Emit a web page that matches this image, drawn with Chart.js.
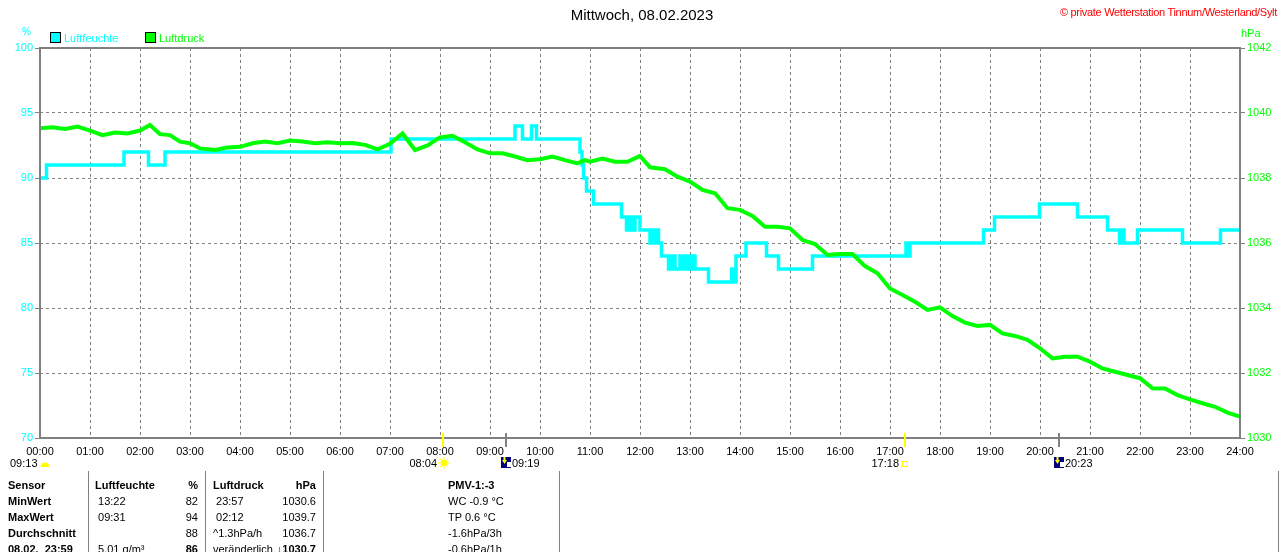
<!DOCTYPE html>
<html>
<head>
<meta charset="utf-8">
<script src="https://cdn.jsdelivr.net/npm/chart.js@4.4.0/dist/chart.umd.min.js"></script>
<style>
  body { margin: 0; background: #fff; }
  #wrap { position: relative; width: 1280px; height: 552px; overflow: hidden;
    font-family: "Liberation Sans", Arial, sans-serif; font-size: 11px; color: #000; }
  #wrap canvas { position: absolute; left: 0; top: 0; }
  .t { position: absolute; white-space: pre; line-height: 12px; }
  .b { font-weight: bold; }
  .r { text-align: right; }
  .box { position: absolute; width: 9px; height: 9px; border: 1px solid #000; }
  .sep { position: absolute; width: 1px; background: #808080; top: 471px; height: 81px; }
</style>
</head>
<body>
<div id="wrap">
  <canvas id="c" width="1280" height="552"></canvas>
  <div class="t" style="left:0;width:1284px;text-align:center;top:7px;font-size:15px;line-height:16px;">Mittwoch, 08.02.2023</div>
  <div class="t r" style="right:3px;top:6px;color:#ff0000;letter-spacing:-0.3px;">© private Wetterstation Tinnum/Westerland/Sylt</div>
  <div class="t" style="left:22px;top:26px;color:#00ffff;font-size:10px;">%</div>
  <div class="t" style="left:1241px;top:27px;color:#00ff00;">hPa</div>
  <div class="box" style="left:50px;top:32px;background:#00ffff;"></div>
  <div class="t" style="left:64px;top:32px;color:#00ffff;">Luftfeuchte</div>
  <div class="box" style="left:145px;top:32px;background:#00ff00;"></div>
  <div class="t" style="left:159px;top:32px;color:#00ff00;">Luftdruck</div>
  <div id="table"></div>
</div>
<script>
// ── DATA ──
const humTimes = [0, 0.13, 1.68, 2.17, 2.5, 7.02, 9.5, 9.65, 9.83, 9.93, 10.8, 10.84, 10.87, 10.93, 11.07,
  11.63, 11.73, 11.78, 11.85, 11.9, 12.0, 12.2, 12.25, 12.3, 12.33, 12.37, 12.43, 12.57, 12.63, 12.7,
  12.8, 12.87, 12.93, 13.0, 13.05, 13.1, 13.37, 13.83, 13.88, 13.92, 14.12, 14.53, 14.77, 15.45,
  17.32, 17.36, 17.4, 18.87, 19.09, 19.99, 20.75, 21.35, 21.59, 21.63, 21.68, 21.95, 22.85, 23.61, 24];
const humidity = [90, 91, 92, 91, 92, 93, 94, 93, 94, 93, 92, 91, 90, 89, 88,
  87, 86, 87, 86, 87, 86, 85, 86, 85, 86, 85, 84, 83, 84, 83,
  84, 83, 84, 83, 84, 83, 82, 83, 82, 84, 85, 84, 83, 84,
  85, 84, 85, 86, 87, 88, 87, 86, 85, 86, 85, 86, 85, 86, 86];

const presTimes = [0, 0.25, 0.5, 0.75, 1, 1.25, 1.5, 1.75, 2, 2.2, 2.4, 2.6, 2.8, 3, 3.2, 3.5, 3.75,
  4, 4.25, 4.5, 4.75, 5, 5.25, 5.5, 5.75, 6, 6.25, 6.5, 6.75, 7, 7.25, 7.5, 7.75,
  8, 8.25, 8.5, 8.75, 9, 9.25, 9.5, 9.75, 10, 10.25, 10.5, 10.75, 10.9, 11, 11.25, 11.5, 11.75,
  12, 12.2, 12.5, 12.75, 13, 13.25, 13.5, 13.75, 14, 14.25, 14.5, 14.75, 15, 15.25, 15.5, 15.75,
  16, 16.25, 16.5, 16.75, 17, 17.25, 17.5, 17.75, 18, 18.25, 18.5, 18.75, 19, 19.25, 19.5, 19.75,
  20, 20.25, 20.5, 20.75, 21, 21.25, 21.5, 21.75, 22, 22.25, 22.5, 22.75, 23, 23.25, 23.5, 23.75, 24];
const pressure = [1039.53, 1039.56, 1039.51, 1039.58, 1039.46, 1039.32, 1039.40, 1039.37, 1039.46, 1039.63, 1039.35, 1039.32, 1039.12, 1039.07, 1038.91, 1038.86, 1038.94,
  1038.96, 1039.07, 1039.12, 1039.07, 1039.15, 1039.12, 1039.07, 1039.10, 1039.07, 1039.08, 1039.02, 1038.88, 1039.05, 1039.37, 1038.86, 1039.00,
  1039.25, 1039.30, 1039.10, 1038.88, 1038.76, 1038.76, 1038.66, 1038.55, 1038.58, 1038.66, 1038.55, 1038.45, 1038.55, 1038.50, 1038.60, 1038.50, 1038.50,
  1038.68, 1038.33, 1038.27, 1038.04, 1037.89, 1037.63, 1037.53, 1037.07, 1037.02, 1036.83, 1036.50, 1036.50, 1036.45, 1036.09, 1035.97, 1035.63,
  1035.66, 1035.66, 1035.29, 1035.07, 1034.60, 1034.40, 1034.19, 1033.94, 1034.02, 1033.75, 1033.55, 1033.45, 1033.48, 1033.22, 1033.14, 1033.02,
  1032.76, 1032.45, 1032.50, 1032.50, 1032.35, 1032.14, 1032.04, 1031.94, 1031.84, 1031.53, 1031.52, 1031.32, 1031.19, 1031.07, 1030.96, 1030.78, 1030.66];

// sun / moon events on the time axis
const eventTimes = [8 + 4 / 60, 9 + 19 / 60, 17 + 18 / 60, 20 + 23 / 60];
const eventLabels = ['08:04', '09:19', '17:18', '20:23'];
const eventKinds = ['sunrise', 'moon', 'sunset', 'moon'];

const tableRows = [
  ['Sensor', 'Luftfeuchte', '%', 'Luftdruck', 'hPa', 'PMV-1:-3'],
  ['MinWert', ' 13:22', '82', ' 23:57', '1030.6', 'WC -0.9 °C'],
  ['MaxWert', ' 09:31', '94', ' 02:12', '1039.7', 'TP 0.6 °C'],
  ['Durchschnitt', '', '88', '^1.3hPa/h', '1036.7', '-1.6hPa/3h'],
  ['08.02.  23:59', ' 5.01 g/m³', '86', 'veränderlich', '↓1030.7', '-0.6hPa/1h']
];

// ── TABLE ──
const tbl = document.getElementById('table');
const colX = [8, 95, 198, 213, 316, 448];
const colRight = [false, false, true, false, true, false];
tableRows.forEach((row, ri) => {
  row.forEach((txt, ci) => {
    const d = document.createElement('div');
    d.className = 't';
    if (ri === 0 || ci === 0 || (ri === 4 && (ci === 2 || ci === 4))) d.classList.add('b');
    d.style.top = (479 + ri * 16) + 'px';
    if (colRight[ci]) { d.style.right = (1280 - colX[ci]) + 'px'; }
    else d.style.left = colX[ci] + 'px';
    d.textContent = txt;
    tbl.appendChild(d);
  });
});
[88, 205, 323, 559, 1278].forEach(x => {
  const s = document.createElement('div');
  s.className = 'sep'; s.style.left = x + 'px';
  tbl.appendChild(s);
});

// ── PLUGINS ──
const framePlugin = {
  id: 'frame',
  afterDatasetsDraw(chart) {
    const { ctx, chartArea: a } = chart;
    ctx.save();
    ctx.strokeStyle = '#808080'; ctx.lineWidth = 2;
    ctx.strokeRect(a.left, a.top, a.right - a.left, a.bottom - a.top);
    ctx.restore();
  }
};

const eventPlugin = {
  id: 'events',
  afterDraw(chart) {
    const { ctx, chartArea: a } = chart;
    const xs = chart.scales.x;
    ctx.save();
    ctx.font = '11px "Liberation Sans", Arial, sans-serif';
    ctx.textBaseline = 'middle';
    ctx.fillStyle = '#000';
    // moon phase at the left
    ctx.textAlign = 'left';
    ctx.fillText('09:13', 10, 464);
    ctx.fillStyle = '#ffff00';
    ctx.beginPath(); ctx.arc(45, 467, 4.5, Math.PI, 0); ctx.fill();

    eventTimes.forEach((t, i) => {
      const x = Math.round(xs.getPixelForValue(t));
      const kind = eventKinds[i];
      ctx.fillStyle = kind === 'moon' ? '#808080' : '#ffff00';
      ctx.fillRect(x - 1, a.bottom - 5, 2, 14);
      const y = 463;
      if (kind === 'sunrise') {
        ctx.fillStyle = '#ffff00';
        ctx.beginPath(); ctx.arc(x + 1, y, 3.5, 0, Math.PI * 2); ctx.fill();
        ctx.strokeStyle = '#ffff00'; ctx.lineWidth = 1;
        for (let k = 0; k < 8; k++) {
          const ang = k * Math.PI / 4;
          ctx.beginPath();
          ctx.moveTo(x + 1 + Math.cos(ang) * 4, y + Math.sin(ang) * 4);
          ctx.lineTo(x + 1 + Math.cos(ang) * 6, y + Math.sin(ang) * 6);
          ctx.stroke();
        }
        ctx.fillStyle = '#000'; ctx.textAlign = 'right';
        ctx.fillText(eventLabels[i], x - 6, 464);
      } else if (kind === 'sunset') {
        ctx.strokeStyle = '#ffff00'; ctx.lineWidth = 1;
        ctx.strokeRect(x - 2.5, 461.5, 5, 5);
        ctx.fillStyle = '#000'; ctx.textAlign = 'right';
        ctx.fillText(eventLabels[i], x - 6, 464);
      } else {
        ctx.fillStyle = '#000080';
        ctx.fillRect(x - 5, 457, 10, 11);
        ctx.fillStyle = '#ffffff';
        ctx.fillRect(x + 1, 462, 4, 5);
        ctx.fillStyle = '#ffff00';
        ctx.beginPath();
        ctx.moveTo(x - 4, 460); ctx.lineTo(x + 1, 460); ctx.lineTo(x - 1.5, 464);
        ctx.closePath(); ctx.fill();
        ctx.fillRect(x - 2.5, 457, 2, 3);
        ctx.fillStyle = '#000'; ctx.textAlign = 'left';
        ctx.fillText(eventLabels[i], x + 6, 464);
      }
    });
    ctx.restore();
  }
};

// ── CHART ──
const font = { family: '"Liberation Sans", Arial, sans-serif', size: 11 };
const pad2 = v => (v < 10 ? '0' : '') + v + ':00';

new Chart(document.getElementById('c'), {
  type: 'line',
  data: {
    datasets: [
      { label: 'Luftdruck', yAxisID: 'y2', order: 0,
        data: presTimes.map((t, i) => ({ x: t, y: pressure[i] })),
        borderColor: '#00ff00', borderWidth: 4, pointRadius: 0, tension: 0 },
      { label: 'Luftfeuchte', yAxisID: 'y', order: 1, stepped: true,
        data: humTimes.map((t, i) => ({ x: t, y: humidity[i] })),
        borderColor: '#00ffff', borderWidth: 3.5, pointRadius: 0 }
    ]
  },
  options: {
    responsive: false, animation: false, devicePixelRatio: 1,
    layout: { padding: { top: 48, left: 0, right: 0, bottom: 0 } },
    plugins: { legend: { display: false }, tooltip: { enabled: false } },
    scales: {
      x: { type: 'linear', min: 0, max: 24,
        ticks: { stepSize: 1, autoSkip: false, maxRotation: 0, color: '#000', font, padding: 7, callback: v => pad2(v) },
        grid: { color: '#808080', lineWidth: 1, drawTicks: false },
        border: { display: false, dash: [3, 3] },
        afterFit: s => { s.height = 114; } },
      y: { position: 'left', min: 70, max: 100,
        ticks: { stepSize: 5, color: '#00ffff', font, padding: 2, callback: v => String(v) },
        grid: { color: '#808080', lineWidth: 1, tickLength: 5, tickColor: '#808080' },
        border: { display: false, dash: [3, 3] },
        afterFit: s => { s.width = 40; } },
      y2: { position: 'right', min: 1030, max: 1042,
        ticks: { stepSize: 2, color: '#00ff00', font, padding: 2, callback: v => String(v) },
        grid: { drawOnChartArea: false, tickLength: 5, tickColor: '#808080' },
        border: { display: false },
        afterFit: s => { s.width = 40; } }
    }
  },
  plugins: [framePlugin, eventPlugin]
});
</script>
</body>
</html>
